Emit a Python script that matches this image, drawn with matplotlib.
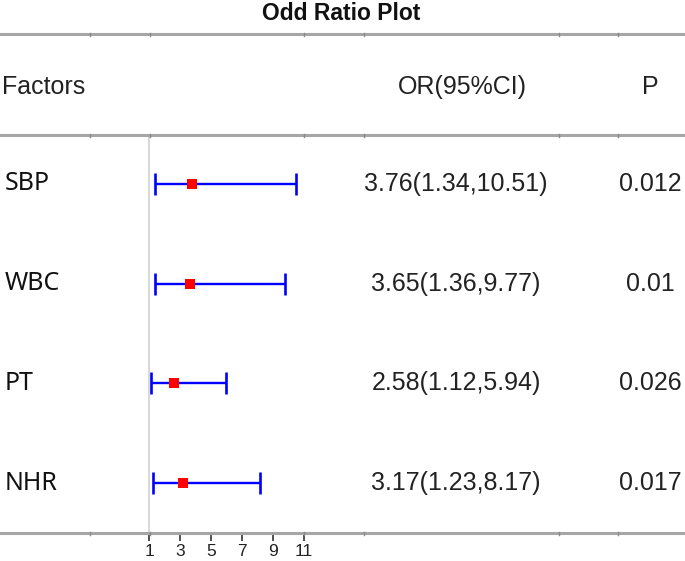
import matplotlib
matplotlib.use("Agg")
import matplotlib.pyplot as plt
from matplotlib.lines import Line2D
from matplotlib import transforms

# ---- data ----
factors = ["SBP", "WBC", "PT", "NHR"]
odds = [3.76, 3.65, 2.58, 3.17]
lower = [1.34, 1.36, 1.12, 1.23]
upper = [10.51, 9.77, 5.94, 8.17]
ci_text = ["3.76(1.34,10.51)", "3.65(1.36,9.77)", "2.58(1.12,5.94)", "3.17(1.23,8.17)"]
p_text = ["0.012", "0.01", "0.026", "0.017"]
xticks = [1, 3, 5, 7, 9, 11]
title = "Odd Ratio Plot"
headers = ["Factors", "OR(95%CI)", "P"]

W, H = 685, 561
fig = plt.figure(figsize=(W / 100, H / 100), dpi=100)
ax = fig.add_axes([0, 0, 1, 1])
ax.patch.set_visible(False)

# pixel mapping (layout)
px_one, px_per_unit = 149.3, 15.47
row0_px, row_step = 184.0, 99.67
ax.set_xlim(1 - px_one / px_per_unit, 1 + (W - px_one) / px_per_unit)
ax.set_ylim((H - row0_px) / row_step, -row0_px / row_step)

rows = list(range(len(factors)))
xerr = [[o - l for o, l in zip(odds, lower)], [u - o for o, u in zip(odds, upper)]]

# reference vertical line at OR = 1
y_top_line = (135 - row0_px) / row_step
y_bot_line = (533 - row0_px) / row_step
ax.plot([1, 1], [y_top_line, y_bot_line], color="#d4d4d4", lw=1.3, zorder=1)

ax.errorbar(odds, rows, xerr=xerr, fmt="none", ecolor="#0000ff", elinewidth=1.7,
            capsize=8, capthick=1.9, zorder=2)
ax.plot(odds, rows, linestyle="none", marker="s", markersize=7.5,
        color="#ff0000", markeredgewidth=0, zorder=3)

# axes styling
for s in ["top", "right", "left"]:
    ax.spines[s].set_visible(False)
ax.spines["bottom"].set_position(("data", y_bot_line))
ax.spines["bottom"].set_bounds(1, 11)
ax.spines["bottom"].set_color("#333333")
ax.spines["bottom"].set_linewidth(1.3)
ax.spines["bottom"].set_zorder(3)
ax.set_yticks([])
ax.set_xticks(xticks)
ax.set_xticklabels([str(t) for t in xticks])
ax.tick_params(axis="x", direction="out", length=6, width=1.2, color="#333333",
               labelsize=12.5, pad=2, labelcolor="#222222")
for lab in ax.get_xticklabels():
    lab.set_fontfamily("Liberation Sans")

# horizontal grey lines
for ypx in [34, 135, 533]:
    yf = 1 - ypx / H
    fig.add_artist(Line2D([0, 1], [yf, yf], transform=fig.transFigure,
                          color="#a6a6a6", lw=2.2, zorder=1))
    for xpx in [90, 150, 304, 364, 559, 618]:
        fig.add_artist(Line2D([xpx / W, xpx / W], [yf - 1.5 / H, yf + 1.5 / H],
                              transform=fig.transFigure, color="#8a8a8a", lw=1, zorder=1))

# title & headers
fig.text(341 / W, 1 - 13 / H, title, ha="center", va="center",
         fontsize=16.5, fontweight="bold", family="Liberation Sans", color="#111111")
hy = 1 - 87 / H
fig.text(2 / W, hy, headers[0], ha="left", va="center", fontsize=18,
         family="Liberation Sans", color="#222222")
fig.text(462 / W, hy, headers[1], ha="center", va="center", fontsize=18,
         family="Liberation Sans", color="#222222")
fig.text(650 / W, hy, headers[2], ha="center", va="center", fontsize=18,
         family="Liberation Sans", color="#222222")

# row texts
trans = transforms.blended_transform_factory(fig.transFigure, ax.transData)
for i, (f, c, p) in enumerate(zip(factors, ci_text, p_text)):
    ax.text(5 / W, i, f, transform=trans, ha="left", va="center", fontsize=18,
            family="Noto Sans", color="#111111")
    ax.text(456 / W, i, c, transform=trans, ha="center", va="center", fontsize=18,
            family="Liberation Sans", color="#222222")
    ax.text(650 / W, i, p, transform=trans, ha="center", va="center", fontsize=18,
            family="Liberation Sans", color="#222222")

fig.savefig("out.png", dpi=100, facecolor="white")
